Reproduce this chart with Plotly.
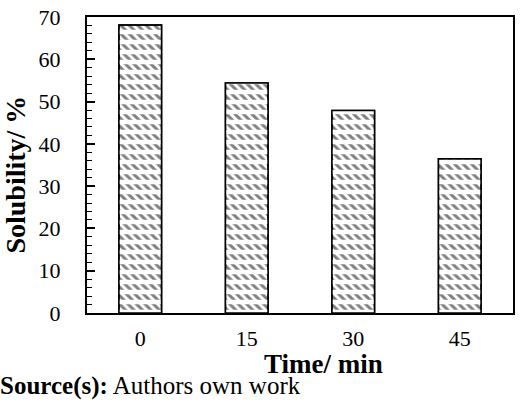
import plotly.graph_objects as go

# data
times = ["0", "15", "30", "45"]
solubility = [68.1, 54.4, 47.9, 36.5]

y_ticks = [0, 10, 20, 30, 40, 50, 60, 70]

serif = "Liberation Serif"

fig = go.Figure()

# bars with backslash hatch
fig.add_trace(go.Bar(
    x=times, y=solubility, width=0.4,
    marker=dict(color="white",
                line=dict(color="black", width=1.5),
                pattern=dict(shape="\\", size=6, solidity=0.5,
                             fgcolor="black", bgcolor="white")),
    showlegend=False, hoverinfo="skip"))

# white horizontal stripes on top to break the hatch into rows
fig.add_trace(go.Bar(
    x=times, y=solubility, width=0.4,
    marker=dict(color="rgba(0,0,0,0)",
                line=dict(color="black", width=1.5),
                pattern=dict(shape="-", size=10, solidity=0.45,
                             fgcolor="white", fgopacity=1,
                             bgcolor="rgba(0,0,0,0)", fillmode="replace")),
    showlegend=False))

fig.update_layout(
    width=520, height=411,
    margin=dict(l=87, r=5, t=10, b=98),
    barmode="overlay",
    plot_bgcolor="white", paper_bgcolor="white",
    font=dict(family=serif, size=22, color="black"),
    xaxis=dict(range=[-0.5, 3.5], showline=True, linecolor="black", linewidth=2,
               mirror=True, ticks="", ticklabelstandoff=5, showgrid=False,
               tickfont=dict(size=22)),
    yaxis=dict(range=[0, 70], tickvals=y_ticks, showline=True, linecolor="black",
               linewidth=2, mirror=True, ticks="inside", ticklen=8, tickwidth=1.5,
               tickcolor="black", minor=dict(dtick=2, ticks="inside", ticklen=5,
                                             tickwidth=1, tickcolor="black"),
               showgrid=False, zeroline=False, ticklabelstandoff=20,
               ticklabeloverflow="allow", tickfont=dict(size=22)),
)

# place annotations in pixel terms
pw, ph = 520 - 87 - 5, 411 - 10 - 98
def px(x):
    return (x - 87) / pw
def py(y):
    return (411 - 98 - y) / ph

fig.add_annotation(text="<b>Time/ min</b>", xref="paper", yref="paper",
                   x=px(325), y=py(365), xanchor="center", yanchor="middle",
                   showarrow=False, font=dict(size=27))
fig.add_annotation(text="<b>Solubility/ %</b>", textangle=-90, xref="paper", yref="paper",
                   x=px(15), y=py(171), xanchor="center", yanchor="middle",
                   showarrow=False, font=dict(size=28))
fig.add_annotation(text="<b>Source(s):</b> Authors own work", xref="paper", yref="paper",
                   x=px(-2), y=py(388), xanchor="left", yanchor="middle",
                   showarrow=False, font=dict(size=25))

# page has a default body margin; drop it so the figure sits at 0,0
fig.write_html("out.html", config={"displayModeBar": False},
               post_script="document.body.style.margin='0';")
